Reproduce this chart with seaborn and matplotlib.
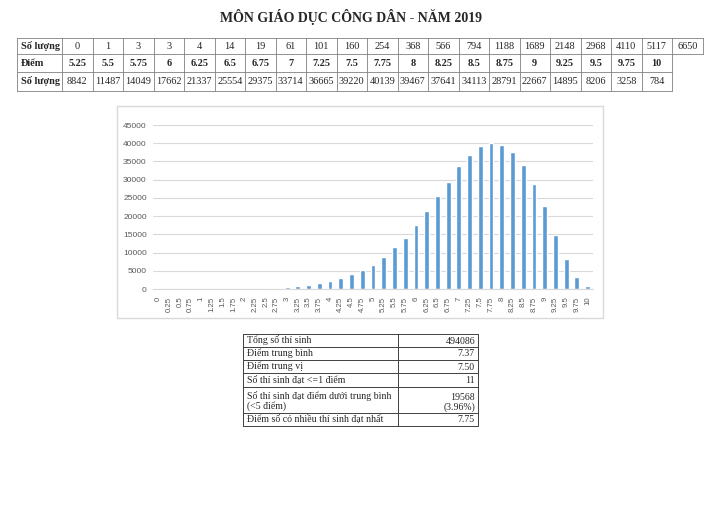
import matplotlib
matplotlib.use("Agg")
import matplotlib.pyplot as plt
import seaborn as sns
import pandas as pd

# ---------------- data ----------------
title = "MÔN GIÁO DỤC CÔNG DÂN - NĂM 2019"
scores = ["0", "0.25", "0.5", "0.75", "1", "1.25", "1.5", "1.75", "2", "2.25",
          "2.5", "2.75", "3", "3.25", "3.5", "3.75", "4", "4.25", "4.5", "4.75",
          "5", "5.25", "5.5", "5.75", "6", "6.25", "6.5", "6.75", "7", "7.25",
          "7.5", "7.75", "8", "8.25", "8.5", "8.75", "9", "9.25", "9.5", "9.75", "10"]
counts = [0, 1, 3, 3, 4, 14, 19, 61, 101, 160, 254, 368, 566, 794, 1188, 1689,
          2148, 2968, 4110, 5117, 6650,
          8842, 11487, 14049, 17662, 21337, 25554, 29375, 33714, 36665, 39220,
          40139, 39467, 37641, 34113, 28791, 22667, 14895, 8206, 3258, 784]
yticks = [0, 5000, 10000, 15000, 20000, 25000, 30000, 35000, 40000, 45000]

stat_labels = ["Tổng số thí sinh", "Điểm trung bình", "Điểm trung vị",
               "Số thí sinh đạt <=1 điểm",
               "Số thí sinh đạt điểm dưới trung bình\n(<5 điểm)",
               "Điểm số có nhiều thí sinh đạt nhất"]
stat_values = ["494086", "7.37", "7.50", "11", "19568\n(3.96%)", "7.75"]

hdr_count = "Số lượng"
hdr_score = "Điểm"

# ---------------- figure ----------------
sns.set_style("white")
plt.rcParams["font.family"] = ["Liberation Serif", "DejaVu Serif"]

fig = plt.figure(figsize=(7.2, 5.09), dpi=100)
bg = fig.add_axes([0, 0, 1, 1])
bg.set_xlim(0, 720)
bg.set_ylim(509, 0)
bg.axis("off")

serif = ["Liberation Serif", "DejaVu Serif"]

# title
bg.text(351, 17, title, ha="center", va="center", fontsize=10,
        fontweight="bold", family=serif)

# ---- top table ----
tx0, tx1, cw = 17, 62, 30.5
ty = [38, 54, 72, 90.5]
lc = "#808080"
lw = 0.6
fs = 7.4
n1 = 21
n2 = len(scores) - n1
bg.plot([tx0, tx1 + n1 * cw], [ty[0], ty[0]], color=lc, lw=lw)
bg.plot([tx0, tx1 + n1 * cw], [ty[1], ty[1]], color=lc, lw=lw)
bg.plot([tx0, tx1 + n2 * cw], [ty[2], ty[2]], color=lc, lw=lw)
bg.plot([tx0, tx1 + n2 * cw], [ty[3], ty[3]], color=lc, lw=lw)
bg.plot([tx0, tx0], [ty[0], ty[3]], color=lc, lw=lw)
bg.plot([tx1, tx1], [ty[0], ty[3]], color=lc, lw=lw)
for i in range(1, n1 + 1):
    xx = tx1 + i * cw
    bottom = ty[3] if i <= n2 else ty[1]
    bg.plot([xx, xx], [ty[0], bottom], color=lc, lw=lw)

def base(r):
    return (ty[r] + ty[r + 1]) / 2 + 3

bg.text(tx0 + 4, base(0), hdr_count, ha="left", va="baseline", fontsize=fs,
        fontweight="bold", family=serif)
bg.text(tx0 + 4, base(1), hdr_score, ha="left", va="baseline", fontsize=fs,
        fontweight="bold", family=serif)
bg.text(tx0 + 4, base(2), hdr_count, ha="left", va="baseline", fontsize=fs,
        fontweight="bold", family=serif)
for i in range(n1):
    bg.text(tx1 + (i + 0.5) * cw, base(0), str(counts[i]), ha="center",
            va="baseline", fontsize=fs, family=serif)
for i in range(n2):
    bg.text(tx1 + (i + 0.5) * cw, base(1), scores[n1 + i], ha="center",
            va="baseline", fontsize=fs, fontweight="bold", family=serif)
    bg.text(tx1 + (i + 0.5) * cw, base(2), str(counts[n1 + i]), ha="center",
            va="baseline", fontsize=fs, family=serif)

# ---- chart frame ----
bg.add_patch(plt.Rectangle((117, 106), 486, 212, fill=False,
                           edgecolor="#D9D9D9", lw=1))

# ---- bar chart ----
ax = fig.add_axes([153 / 720, (509 - 289) / 509, 440 / 720, 164 / 509])
df = pd.DataFrame({"score": scores, "count": counts})
sns.barplot(data=df, x="score", y="count", order=scores, color="#5B9BD5",
            saturation=1, width=0.45, ax=ax)
ax.set_xlim(-0.5, len(scores) - 0.5)
ax.set_ylim(0, 45000)
ax.set_yticks(yticks)
ax.set_yticklabels([str(v) for v in yticks])
ax.set_xlabel("")
ax.set_ylabel("")
ax.yaxis.grid(True, color="#D9D9D9", lw=0.8)
ax.set_axisbelow(True)
for s in ["top", "left", "right"]:
    ax.spines[s].set_visible(False)
ax.spines["bottom"].set_color("#D9D9D9")
ax.spines["bottom"].set_linewidth(0.8)
ax.tick_params(axis="y", length=0, pad=4.5, labelsize=6, labelcolor="#595959")
ax.tick_params(axis="x", length=0, pad=5.5, labelsize=5.6, labelcolor="#595959",
               labelrotation=90)
for lab in ax.get_xticklabels() + ax.get_yticklabels():
    lab.set_family(["Liberation Sans", "DejaVu Sans"])
ax.patch.set_alpha(0)

# ---- bottom stats table ----
bx = [243, 398, 478]
by = [334, 347, 360, 373, 386.5, 413, 425.5]
blc = "#404040"
blw = 0.7
for yy in by:
    bg.plot([bx[0], bx[2]], [yy, yy], color=blc, lw=blw)
for xx in bx:
    bg.plot([xx, xx], [by[0], by[-1]], color=blc, lw=blw)
bfs = 7.1
for r in range(len(stat_labels)):
    bg.text(bx[0] + 4, by[r + 1] - 2.0, stat_labels[r], ha="left", va="bottom",
            fontsize=bfs, family=serif, linespacing=1.05)
    bg.text(bx[2] - 3, by[r + 1] - 1.5, stat_values[r], ha="right",
            va="bottom", fontsize=bfs, family=serif, linespacing=1.05,
            multialignment="right")

fig.savefig("out.png", dpi=100)
